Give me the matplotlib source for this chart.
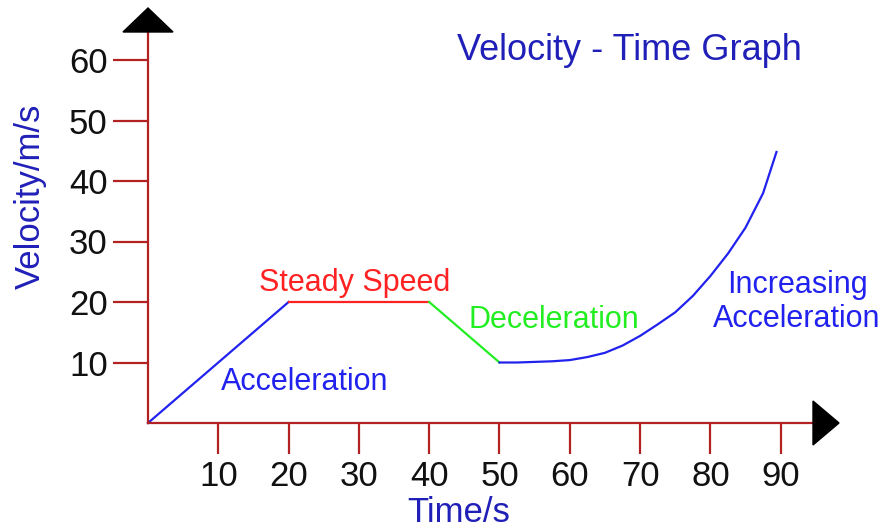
import matplotlib
matplotlib.use("Agg")
import matplotlib.pyplot as plt
from matplotlib.patches import Polygon

plt.rcParams['font.family'] = ['Liberation Sans', 'DejaVu Sans']

# ---- data ----
accel_t = [0, 20]
accel_v = [0, 20]
steady_t = [20, 40]
steady_v = [20, 20]
decel_t = [40, 50]
decel_v = [20, 10]
incr_t = [50, 52.5, 55, 57.5, 60, 62.5, 65, 67.5, 70, 72.5, 75, 77.5, 80, 82.5, 85, 87.5, 89.4]
incr_v = [10.0, 10.0, 10.1, 10.2, 10.4, 10.9, 11.6, 12.8, 14.4, 16.3, 18.3, 21.0, 24.3, 28.0, 32.3, 38.0, 44.8]
x_ticks = [10, 20, 30, 40, 50, 60, 70, 80, 90]
y_ticks = [10, 20, 30, 40, 50, 60]

W, H = 887, 530
fig = plt.figure(figsize=(W / 100, H / 100), dpi=100)

# axes: origin at pixel (148, 423); 10 s = 70.3 px; 10 m/s = 60.5 px
x0, y0 = 148, 423
px_x, px_y = 7.03, 6.05
right_px, top_px = 815, 32
ax = fig.add_axes([x0 / W, (H - y0) / H, (right_px - x0) / W, (y0 - top_px) / H])
ax.set_xlim(0, (right_px - x0) / px_x)
ax.set_ylim(0, (y0 - top_px) / px_y)
ax.patch.set_visible(False)

axis_col = '#b22222'
for s in ['top', 'right']:
    ax.spines[s].set_visible(False)
for s in ['left', 'bottom']:
    ax.spines[s].set_color(axis_col)
    ax.spines[s].set_linewidth(1.6)

ax.set_xticks(x_ticks)
ax.set_yticks(y_ticks)
ax.set_xticklabels([str(v) for v in x_ticks])
ax.set_yticklabels([str(v) for v in y_ticks])
ax.tick_params(axis='x', direction='out', length=22, width=1.6, color=axis_col,
               labelsize=25, labelcolor='#111111', pad=5)
ax.tick_params(axis='y', direction='out', length=25, width=1.6, color=axis_col,
               labelsize=25, labelcolor='#111111', pad=4)

# arrowheads (pixel-based, figure coords)
def fpx(px, py):
    return (px / W, (H - py) / H)

up = Polygon([fpx(123, 32), fpx(173, 32), fpx(148, 8)], closed=True,
             transform=fig.transFigure, color='black', zorder=5)
rt = Polygon([fpx(813, 401), fpx(813, 445), fpx(839, 423)], closed=True,
             transform=fig.transFigure, color='black', zorder=5)
fig.patches.extend([up, rt])

blue = '#2222ee'
red = '#ff2222'
green = '#22ee22'
ax.plot(accel_t, accel_v, color=blue, lw=1.6, clip_on=False)
ax.plot(steady_t, steady_v, color=red, lw=1.6, clip_on=False)
ax.plot(decel_t, decel_v, color=green, lw=1.6, clip_on=False)
ax.plot(incr_t, incr_v, color=blue, lw=1.6, clip_on=False, solid_joinstyle='round')

def dx(px):
    return (px - x0) / px_x

def dy(py):
    return (y0 - py) / px_y

ax.text(dx(355), dy(283), 'Steady Speed', color=red, fontsize=22, ha='center', va='center')
ax.text(dx(554), dy(320), 'Deceleration', color=green, fontsize=22, ha='center', va='center')
ax.text(dx(305), dy(382), 'Acceleration', color=blue, fontsize=22, ha='center', va='center')
ax.text(dx(797), dy(302), 'Increasing\nAcceleration', color=blue, fontsize=22,
        ha='center', va='center', linespacing=1.2)

fig.text(629 / W, (H - 51) / H, 'Velocity - Time Graph', color='#2020b8', fontsize=26,
         ha='center', va='center')
fig.text(30 / W, (H - 196) / H, 'Velocity/m/s', color='#2020b8', fontsize=25,
         ha='center', va='center', rotation=90)
fig.text(459 / W, (H - 513) / H, 'Time/s', color='#2020b8', fontsize=25,
         ha='center', va='center')

fig.savefig('out.png', dpi=100, facecolor='white')
